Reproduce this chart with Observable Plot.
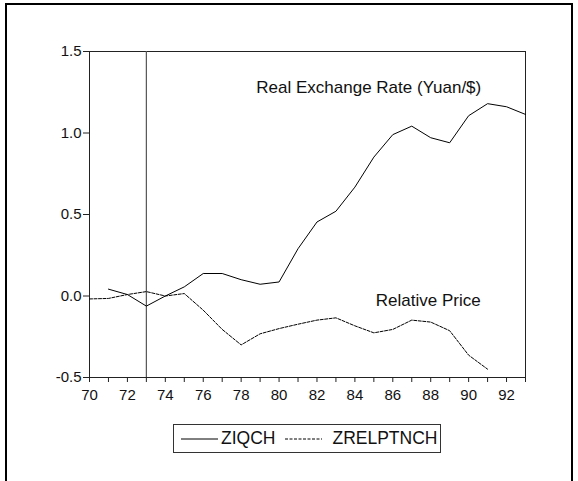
<!DOCTYPE html>
<html>
<head>
<meta charset="utf-8">
<script src="https://cdn.jsdelivr.net/npm/d3@7"></script>
<script src="https://cdn.jsdelivr.net/npm/@observablehq/plot@0.6"></script>
<style>
  html, body { margin: 0; padding: 0; background: #fff; }
  #wrap { position: relative; width: 578px; height: 481px; overflow: hidden; font-family: "Liberation Sans", Arial, sans-serif; }
  #outer { position: absolute; left: 5px; top: 3px; width: 568px; height: 500px; border: 2.5px solid #000; box-sizing: border-box; }
  #chart { position: absolute; left: 0; top: 0; }
  #legend { position: absolute; left: 173px; top: 424px; width: 268px; height: 29px; border: 1px solid #333; box-sizing: border-box; display: flex; align-items: center; font-size: 17.5px; color: #111; }
  #legend svg { display: block; }
  .item { display: flex; align-items: center; }
</style>
</head>
<body>
<div id="wrap">
  <div id="outer"></div>
  <div id="chart"></div>
  <div id="legend"></div>
</div>
<script>
// Series: ZIQCH (real exchange rate), years 71..93
const yearsZIQCH = [71,72,73,74,75,76,77,78,79,80,81,82,83,84,85,86,87,88,89,90,91,92,93];
const valuesZIQCH = [0.042,0.009,-0.062,0.0,0.056,0.138,0.138,0.10,0.072,0.086,0.29,0.454,0.52,0.668,0.852,0.99,1.042,0.971,0.94,1.106,1.18,1.161,1.114];
// Series: ZRELPTNCH (relative price), years 70..91
const yearsZREL = [70,71,72,73,74,75,76,77,78,79,80,81,82,83,84,85,86,87,88,89,90,91];
const valuesZREL = [-0.018,-0.015,0.009,0.027,0.0,0.015,-0.087,-0.205,-0.30,-0.232,-0.20,-0.173,-0.148,-0.134,-0.183,-0.226,-0.205,-0.148,-0.16,-0.213,-0.363,-0.449];
// Ticks
const xTicks = d3.range(70, 94);
const yTicks = [-0.5, 0.0, 0.5, 1.0, 1.5];
const breakYear = [73];
const seriesNames = ["ZIQCH", "ZRELPTNCH"];
const annotations = [
  {x: 78.8, y: 1.276, text: "Real Exchange Rate (Yuan/$)"},
  {x: 85.1, y: -0.028, text: "Relative Price"}
];

const dataIQ = yearsZIQCH.map((y, i) => ({year: y, value: valuesZIQCH[i]}));
const dataREL = yearsZREL.map((y, i) => ({year: y, value: valuesZREL[i]}));

const chart = Plot.plot({
  width: 578,
  height: 410,
  marginLeft: 89,
  marginRight: 53,
  marginTop: 51,
  marginBottom: 33,
  style: {fontFamily: '"Liberation Sans", Arial, sans-serif', fontSize: "15px", background: "transparent", color: "#111", overflow: "visible"},
  x: {domain: [70, 93], axis: null},
  y: {domain: [-0.5, 1.5], axis: null},
  marks: [
    Plot.frame({stroke: "#222", strokeWidth: 1}),
    Plot.axisX({ticks: xTicks, tickFormat: d => d % 2 === 0 ? String(d) : "", tickSize: 5, tickPadding: 7, fontSize: 15, stroke: "#222", label: null}),
    Plot.axisY({ticks: yTicks, tickFormat: d => d.toFixed(1), tickSize: 6, tickPadding: 2, fontSize: 15, stroke: "#222", label: null}),
    Plot.ruleX(breakYear, {stroke: "#555", strokeWidth: 1.2}),
    Plot.line(dataIQ, {x: "year", y: "value", stroke: "#000", strokeWidth: 1}),
    Plot.line(dataREL, {x: "year", y: "value", stroke: "#000", strokeWidth: 1, strokeDasharray: "3,1.5"}),
    Plot.text(annotations, {x: "x", y: "y", text: "text", textAnchor: "start", fontSize: 17, fill: "#111"})
  ]
});
document.getElementById("chart").appendChild(chart);

// Legend
const legend = d3.select("#legend");
seriesNames.forEach((name, i) => {
  const item = legend.append("div").attr("class", "item").style("margin-left", i === 0 ? "7px" : "10px");
  const svg = item.append("svg").attr("width", 38).attr("height", 10);
  svg.append("line").attr("x1", 0).attr("x2", 37).attr("y1", 5).attr("y2", 5)
    .attr("stroke", "#000").attr("stroke-width", 1)
    .attr("stroke-dasharray", i === 0 ? null : "3,1.5");
  item.append("span").style("margin-left", i === 0 ? "2px" : "9px").text(name);
});
</script>
</body>
</html>
